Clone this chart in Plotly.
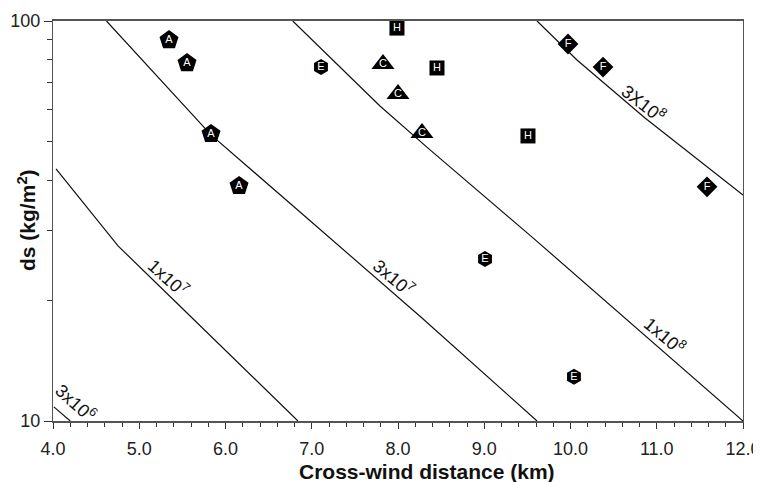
import math
import plotly.graph_objects as go

# ---------------- data ----------------
# sample groups (letter, marker symbol)
a_x = [5.345, 5.554, 5.832, 6.157]
a_y = [89.6, 78.5, 52.2, 38.7]
e_x = [7.107, 9.009, 10.04]
e_y = [76.7, 25.4, 12.9]
c_x = [7.826, 8.000, 8.278]
c_y = [78.1, 65.7, 52.5]
h_x = [7.988, 8.452, 9.507]
h_y = [96.0, 76.3, 51.6]
f_x = [9.971, 10.377, 11.583]
f_y = [87.6, 76.7, 38.5]

# contour lines (x km, ds kg/m2)
c3e6_x = [4.01, 4.20]
c3e6_y = [10.85, 10.0]
c1e7_x = [4.035, 4.754, 5.438, 6.84]
c1e7_y = [42.7, 27.4, 19.7, 10.0]
c3e7_x = [4.62, 5.832, 6.864, 8.278, 9.612]
c3e7_y = [100.0, 51.9, 33.3, 18.1, 10.0]
c1e8_x = [6.78, 7.791, 8.348, 9.565, 12.0]
c1e8_y = [100.0, 61.3, 48.1, 28.7, 10.0]
c3e8_x = [9.612, 10.075, 10.864, 12.0]
c3e8_y = [100.0, 79.9, 57.2, 36.7]

contour_labels = ["3x10<sup>6</sup>", "1x10<sup>7</sup>", "3x10<sup>7</sup>",
                  "1x10<sup>8</sup>", "3X10<sup>8</sup>"]
label_x = [4.267, 5.333, 7.954, 11.096, 10.852]
label_y = [11.15, 22.8, 22.9, 16.4, 62.2]
label_angle = [42, 42, 40, 40, 38]

x_ticks = [4, 5, 6, 7, 8, 9, 10, 11, 12]
y_major = [10, 100]
y_minor = [20, 30, 40, 50, 60, 70, 80, 90]

FONT = "Liberation Sans, Arial, Helvetica, sans-serif"

fig = go.Figure()

for lx, ly in [(c3e6_x, c3e6_y), (c1e7_x, c1e7_y), (c3e7_x, c3e7_y),
               (c1e8_x, c1e8_y), (c3e8_x, c3e8_y)]:
    fig.add_trace(go.Scatter(x=lx, y=ly, mode="lines",
                             line=dict(color="#111111", width=1.2),
                             hoverinfo="skip", showlegend=False))

groups = [
    ("A", a_x, a_y, "pentagon", 20),
    ("E", e_x, e_y, "hexagon", 16),
    ("C", c_x, c_y, "triangle-up", 20),
    ("H", h_x, h_y, "square", 15),
    ("F", f_x, f_y, "diamond", 16),
]
for letter, gx, gy, sym, sz in groups:
    fig.add_trace(go.Scatter(
        x=gx, y=gy, mode="markers+text", text=[letter] * len(gx),
        textposition="middle center",
        textfont=dict(color="white", size=11, family=FONT),
        marker=dict(symbol=sym, size=sz, color="black",
                    line=dict(width=0)),
        showlegend=False, cliponaxis=False))

for t, lx, ly, ang in zip(contour_labels, label_x, label_y, label_angle):
    fig.add_annotation(x=lx, y=math.log10(ly), text=t, textangle=ang,
                       showarrow=False, xref="x", yref="y",
                       font=dict(family=FONT, size=18, color="#111111"))

fig.add_annotation(x=0.542, xref="paper", y=-0.126, yref="paper",
                   yanchor="middle", xanchor="center",
                   text="<b>Cross-wind distance (km)</b>", showarrow=False,
                   font=dict(family=FONT, size=21, color="#111111"))
fig.add_annotation(x=-0.038, xref="paper", y=0.502, yref="paper",
                   xanchor="center", yanchor="middle", textangle=-90,
                   text="<b>ds (kg/m<sup>2</sup>)</b>", showarrow=False,
                   font=dict(family=FONT, size=21, color="#111111"))

# the page body has an 8px margin, so the figure is sized to fit the window
fig.update_layout(
    width=753, height=474,
    margin=dict(l=45, r=18, t=13, b=61),
    paper_bgcolor="white", plot_bgcolor="white",
    font=dict(family=FONT, size=18, color="#222222"),
    xaxis=dict(range=[4, 12], tickvals=x_ticks,
               ticktext=[f"{v:.1f}" for v in x_ticks],
               ticks="outside", ticklen=6, tickwidth=1, tickcolor="#333333",
               ticklabelstandoff=5,
               showline=True, linecolor="#555555", linewidth=1.5,
               mirror=True, showgrid=False, zeroline=False,
               automargin=False,
               minor=dict(dtick=0.2, ticks="outside", ticklen=4,
                          tickcolor="#333333", showgrid=False)),
    yaxis=dict(type="log", range=[1, 2], tickvals=y_major,
               ticktext=[str(v) for v in y_major],
               ticks="outside", ticklen=8, tickwidth=1, tickcolor="#333333",
               showline=True, linecolor="#555555", linewidth=1.2,
               mirror=True, showgrid=False, zeroline=False,
               automargin=False,
               minor=dict(tickmode="array", tickvals=y_minor,
                          ticks="outside", ticklen=5, tickcolor="#333333",
                          showgrid=False)),
)

fig.write_html("out.html")
